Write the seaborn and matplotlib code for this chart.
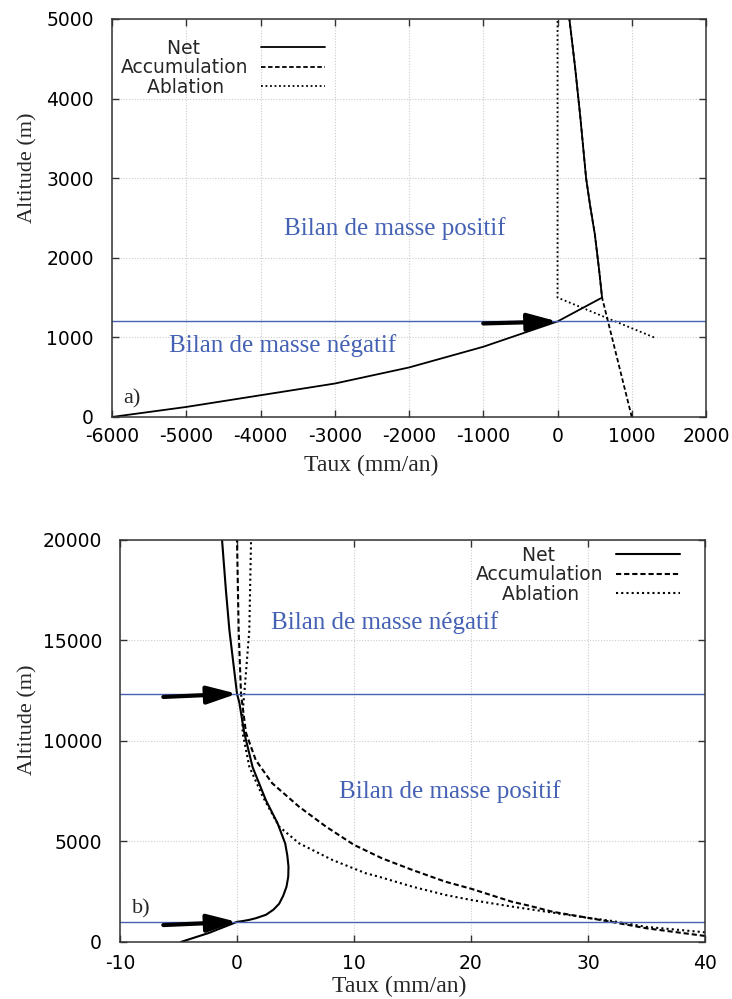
import matplotlib
matplotlib.use("Agg")
import matplotlib.pyplot as plt
import seaborn as sns

# ---- panel a) : altitude (m) vs rate (mm/an)
a_net_rate = [-6000, -5000, -4000, -3000, -2000, -1000, 0, 600, 560, 502, 440, 385, 307, 236, 160]
a_net_alt = [0, 126, 273, 420, 622, 882, 1200, 1500, 1850, 2300, 2650, 3000, 3770, 4400, 5000]
a_acc_rate = [1000, 600, 560, 502, 440, 385, 307, 236, 160]
a_acc_alt = [0, 1500, 1850, 2300, 2650, 3000, 3770, 4400, 5000]
a_abl_rate = [1300, 0, 0]
a_abl_alt = [1000, 1500, 5000]
a_ela = [1200]

# ---- panel b)
b_net_rate = [-4.8, -2.4, 0, 0.5, 1.05, 1.6, 2.47, 3.1, 3.6, 3.95, 4.23, 4.38, 4.4, 4.3,
              4.12, 3.47, 2.47, 1.33, 0.62, 0.2, 0, -0.3, -0.65, -0.95, -1.28]
b_net_alt = [0, 450, 1000, 1040, 1100, 1180, 1350, 1600, 1900, 2300, 2750, 3250, 3750,
             4300, 4900, 5900, 7050, 8700, 10400, 11900, 12350, 13800, 15500, 17500, 20000]
b_acc_rate = [40, 35, 32, 30, 27, 25, 23.5, 20, 17.8, 15, 12.4, 10, 7.6, 5.3, 3.0,
              1.6, 0.77, 0.34, 0.14, 0.0]
b_acc_alt = [300, 680, 1000, 1200, 1500, 1800, 2000, 2650, 3000, 3580, 4160, 4830, 5740,
             6730, 7900, 9050, 10400, 12350, 15500, 20000]
b_abl_rate = [40, 35, 32, 30, 26.4, 23.5, 20, 17.8, 15, 12.1, 11, 8.15, 5.3, 3.6, 2.2,
              1.05, 0.48, 0.45, 0.62, 1.05, 1.2]
b_abl_alt = [480, 750, 1050, 1200, 1510, 1760, 2090, 2340, 2750, 3250, 3420, 4080, 4910,
             5740, 7230, 8720, 10400, 11200, 12350, 15500, 20000]
b_ela = [1000, 12350]

labels = ["Net", "Accumulation", "Ablation"]

sns.set_style("ticks")
plt.rcParams["font.family"] = ["DejaVu Sans"]
plt.rcParams["axes.unicode_minus"] = False

SERIF = ["Liberation Serif", "DejaVu Serif"]
BLUE = "#4461b4"
DASH = (0, (2.5, 1.4))
DOT = (0, (1, 1.5))
ARROW = dict(arrowstyle="-|>,head_length=1.0,head_width=0.3", lw=3.0,
             color="black", mutation_scale=18, shrinkA=0, shrinkB=0)

fig = plt.figure(figsize=(7.32, 9.99), dpi=100)
ax1 = fig.add_axes([0.153, 0.5826, 0.8115, 0.3984])
ax2 = fig.add_axes([0.164, 0.0571, 0.799, 0.4024])


def draw_profiles(ax, net, acc, abl, lw):
    sns.lineplot(x=acc[0], y=acc[1], sort=False, estimator=None, ax=ax,
                 color="black", lw=lw, linestyle=DASH)
    sns.lineplot(x=abl[0], y=abl[1], sort=False, estimator=None, ax=ax,
                 color="black", lw=lw, linestyle=DOT)
    sns.lineplot(x=net[0], y=net[1], sort=False, estimator=None, ax=ax,
                 color="black", lw=lw)
    lines = ax.get_lines()
    return [lines[-1], lines[-3], lines[-2]]


def style_axes(ax):
    ax.grid(True, color="#cccccc", linestyle=(0, (1, 1.5)), lw=0.8)
    ax.tick_params(direction="in", top=True, right=True, length=5, width=1,
                   labelsize=13.5, color="#333333", labelcolor="black")
    ax.tick_params(axis="y", pad=13)
    for s in ax.spines.values():
        s.set_color("#333333")
        s.set_linewidth(1.1)


def add_legend(ax, handles, anchor):
    # pad labels so that they look centred like the original key
    padded = [labels[0] + " " * 8, labels[1], labels[2] + " " * 4]
    ax.legend(handles, padded, loc="upper right", bbox_to_anchor=anchor,
              frameon=False, markerfirst=False, fontsize=13.5, handlelength=3.4,
              handletextpad=0.7, labelspacing=0.02, borderpad=0, borderaxespad=0)


# ---------------- panel a
h = draw_profiles(ax1, (a_net_rate, a_net_alt), (a_acc_rate, a_acc_alt),
                  (a_abl_rate, a_abl_alt), 1.3)
for z in a_ela:
    ax1.axhline(z, color=BLUE, lw=1)
ax1.annotate("", xy=(0, a_ela[0]), xytext=(-1000, a_ela[0] - 25), arrowprops=ARROW)
ax1.set_xlim(-6000, 2000)
ax1.set_ylim(0, 5000)
ax1.set_xticks(range(-6000, 2001, 1000))
ax1.set_yticks(range(0, 5001, 1000))
style_axes(ax1)
ax1.tick_params(axis="x", pad=7)
ax1.set_xlabel("Taux (mm/an)", family=SERIF, fontsize=17)
ax1.set_ylabel("Altitude (m)", family=SERIF, fontsize=16)
ax1.xaxis.set_label_coords(0.436, -0.095)
ax1.yaxis.set_label_coords(-0.126, 0.626)
ax1.text(-3680, 2374, "Bilan de masse positif", family=SERIF, fontsize=18,
         color=BLUE, va="center")
ax1.text(-5237, 903, "Bilan de masse négatif", family=SERIF, fontsize=18,
         color=BLUE, va="center")
ax1.text(-5845, 231, "a)", family=SERIF, fontsize=16, va="center")
add_legend(ax1, h, (0.3586, 0.95))

# ---------------- panel b
h = draw_profiles(ax2, (b_net_rate, b_net_alt), (b_acc_rate, b_acc_alt),
                  (b_abl_rate, b_abl_alt), 1.5)
for z in b_ela:
    ax2.axhline(z, color=BLUE, lw=1)
for z in b_ela:
    ax2.annotate("", xy=(0, z), xytext=(-6.3, z - 160), arrowprops=ARROW)
ax2.set_xlim(-10, 40)
ax2.set_ylim(0, 20000)
ax2.set_xticks(range(-10, 41, 10))
ax2.set_yticks(range(0, 20001, 5000))
style_axes(ax2)
ax2.tick_params(axis="x", pad=9)
ax2.set_xlabel("Taux (mm/an)", family=SERIF, fontsize=17)
ax2.set_ylabel("Altitude (m)", family=SERIF, fontsize=16)
ax2.xaxis.set_label_coords(0.477, -0.085)
ax2.yaxis.set_label_coords(-0.142, 0.552)
ax2.text(2.9, 15900, "Bilan de masse négatif", family=SERIF, fontsize=18,
         color=BLUE, va="center")
ax2.text(8.7, 7480, "Bilan de masse positif", family=SERIF, fontsize=18,
         color=BLUE, va="center")
ax2.text(-9.0, 1640, "b)", family=SERIF, fontsize=16, va="center")
add_legend(ax2, h, (0.957, 0.985))

fig.savefig("out.png", dpi=100)
